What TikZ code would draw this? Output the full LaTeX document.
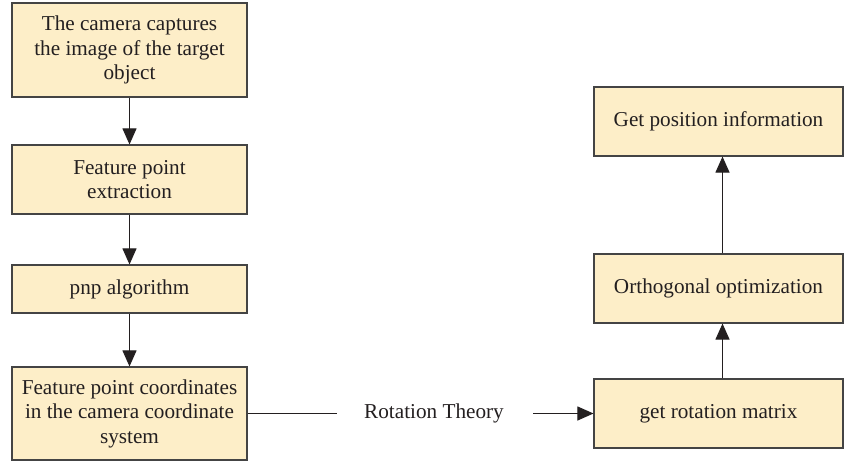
\documentclass[tikz,border=0pt]{standalone}
\usepackage{fontspec}
\setmainfont{Liberation Serif}
\usetikzlibrary{arrows.meta}
\definecolor{boxfill}{RGB}{253,238,200}
\definecolor{boxline}{RGB}{68,68,68}
\definecolor{ink}{RGB}{35,31,32}
\begin{document}
\begin{tikzpicture}[x=1pt,y=-1pt,
  stepbox/.style={draw=boxline,line width=1.1pt,fill=boxfill,text=ink,
    align=center,inner sep=0pt,minimum width=235pt,
    font=\fontsize{21.2}{24.5}\selectfont},
  rbox/.style={stepbox,minimum width=249pt},
  flow/.style={draw=ink,line width=1pt,-{Triangle[length=16pt,width=14pt]}},
  plain/.style={draw=ink,line width=1pt}]
\useasboundingbox (0,0) rectangle (846,462);
% left column
\node[stepbox,minimum height=94pt] (cap) at (129.5,50) {The camera captures\\the image of the target\\object};
\node[stepbox,minimum height=69pt] (feat) at (129.5,179.5) {Feature point\\extraction};
\node[stepbox,minimum height=48pt] (pnp) at (129.5,289) {pnp algorithm};
\node[stepbox,minimum height=93pt] (coord) at (129.5,413.5) {Feature point coordinates\\in the camera coordinate\\system};
% right column
\node[rbox,minimum height=69pt] (pos) at (718.5,121.5) {Get position information};
\node[rbox,minimum height=69pt] (orth) at (718.5,288.5) {Orthogonal optimization};
\node[rbox,minimum height=69pt] (rot) at (718.5,413.5) {get rotation matrix};
% label on the connector
\node[text=ink,font=\fontsize{21.2}{24}\selectfont,inner sep=0pt] (theory) at (434,413.5) {Rotation Theory};
\coordinate (lend) at (337,413.5);
\coordinate (astart) at (533,413.5);
% connectors
\draw[flow] (cap) -- (feat);
\draw[flow] (feat) -- (pnp);
\draw[flow] (pnp) -- (coord);
\draw[plain] (coord.east) -- (lend);
\draw[flow] (astart) -- (rot.west);
\draw[flow] ([xshift=4pt]rot.north) -- ([xshift=4pt]orth.south);
\draw[flow] ([xshift=4pt]orth.north) -- ([xshift=4pt]pos.south);
\end{tikzpicture}
\end{document}
